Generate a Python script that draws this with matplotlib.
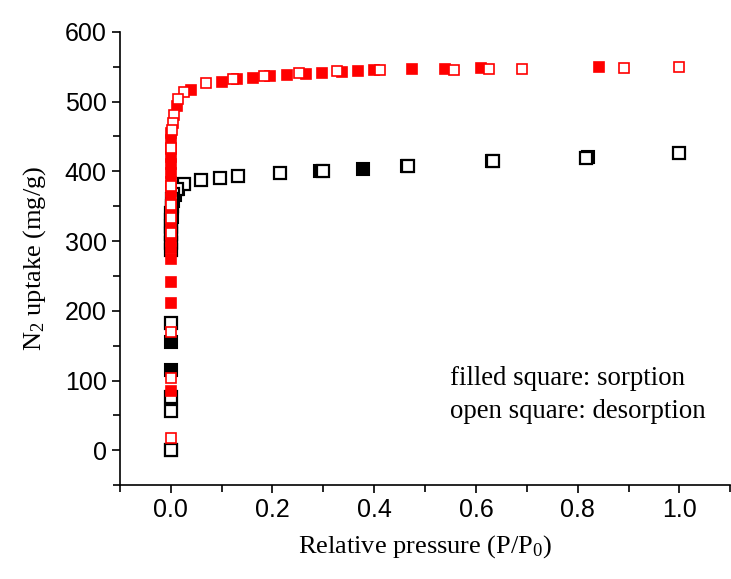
import matplotlib
matplotlib.use('Agg')
import matplotlib.pyplot as plt
from matplotlib.ticker import MultipleLocator

plt.rcParams['font.family'] = 'Liberation Sans'
plt.rcParams['mathtext.fontset'] = 'custom'
plt.rcParams['mathtext.rm'] = 'Liberation Serif'
plt.rcParams['mathtext.it'] = 'Liberation Serif:italic'

# black sample: sorption (filled) and desorption (open)
black_ads_x = [0.0, 0.0, 0.0, 0.0, 0.0, 0.001, 0.002, 0.003, 0.005, 0.008, 0.015,
               0.293, 0.378, 0.464, 0.631, 0.820]
black_ads_y = [0, 115, 155, 299, 310, 322, 335, 348, 358, 366, 374,
               401, 404, 407.6, 415, 420]
black_des_x = [1.0, 0.816, 0.633, 0.467, 0.299, 0.214, 0.133, 0.096, 0.059, 0.027,
               0.012, 0.005, 0.003, 0.002, 0.001, 0.001, 0.0, 0.0, 0.0, 0.0, 0.0,
               0.0, 0.0, 0.0]
black_des_y = [427, 419.5, 415, 408, 401, 397, 393, 390, 387.5, 382,
               375, 368, 360, 350, 340, 330, 320, 310, 297, 287, 183,
               77, 56, 0]

# red sample
red_ads_x = [0.0, 0.0, 0.0, 0.0, 0.0, 0.0, 0.0, 0.0, 0.0, 0.0, 0.0, 0.0, 0.0,
             0.0, 0.0, 0.0, 0.0, 0.0, 0.001, 0.012, 0.039, 0.1, 0.131, 0.162,
             0.196, 0.229, 0.265, 0.297, 0.337, 0.369, 0.399, 0.474, 0.539,
             0.609, 0.841]
red_ads_y = [85, 211, 241, 274, 290, 300, 310, 322, 335, 348, 360, 372, 385,
             398, 410, 420, 432, 445, 455, 493, 516, 527.6, 532, 533.5,
             536, 538, 539, 541, 543, 544, 545, 547, 546.5,
             548, 549]
red_des_x = [1.0, 0.891, 0.69, 0.625, 0.557, 0.412, 0.327, 0.252, 0.183, 0.123,
             0.07, 0.027, 0.015, 0.0065, 0.005, 0.003, 0.0014, 0.0, 0.0, 0.0,
             0.0, 0.0, 0.0, 0.0]
red_des_y = [550, 548.5, 546.5, 546.5, 546, 545, 543.5, 540.5, 537, 532,
             526, 514, 503, 481, 469, 459, 433, 379, 352, 333,
             312, 170, 104, 17]

fig = plt.figure(figsize=(7.31, 5.79), dpi=100)
ax = fig.add_axes([0.164, 0.162, 0.835, 0.783])

ax.plot(black_ads_x, black_ads_y, 's', ms=8.5, color='black', mec='black', mew=1.5)
ax.plot(black_des_x, black_des_y, 's', ms=8.5, mfc='white', mec='black', mew=1.6)
ax.plot(red_ads_x, red_ads_y, 's', ms=7.2, color='red', mec='red', mew=1.2)
ax.plot(red_des_x, red_des_y, 's', ms=7.5, mfc='white', mec='red', mew=1.2)

ax.set_xlim(-0.1, 1.1)
ax.set_ylim(-50, 600)
ax.xaxis.set_minor_locator(MultipleLocator(0.1))
ax.yaxis.set_major_locator(MultipleLocator(100))
ax.yaxis.set_minor_locator(MultipleLocator(50))
ax.set_xticks([0.0, 0.2, 0.4, 0.6, 0.8, 1.0])
ax.set_xticklabels(['0.0', '0.2', '0.4', '0.6', '0.8', '1.0'])

for s in ['top', 'right']:
    ax.spines[s].set_visible(False)
for s in ['left', 'bottom']:
    ax.spines[s].set_linewidth(1.2)
ax.tick_params(which='major', direction='out', length=5.5, width=1.2, labelsize=18, pad=4)
ax.tick_params(which='minor', direction='out', length=5, width=1.2)

ax.set_xlabel('Relative pressure (P/P$_0$)', family='Liberation Serif', fontsize=19, labelpad=8)
ax.set_ylabel('N$_2$ uptake (mg/g)', family='Liberation Serif', fontsize=19, labelpad=12)

ax.text(0.549, 93, 'filled square: sorption', family='Liberation Serif',
        fontsize=19.3, va='baseline')
ax.text(0.549, 47, 'open square: desorption', family='Liberation Serif',
        fontsize=19.3, va='baseline')

fig.savefig('out.png', dpi=100)
